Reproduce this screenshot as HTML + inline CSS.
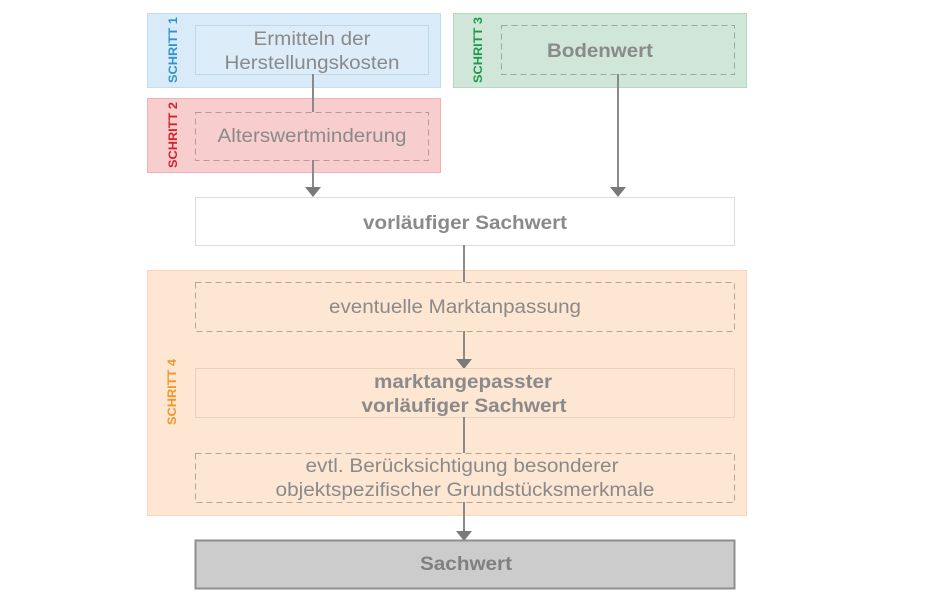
<!DOCTYPE html>
<html><head><meta charset="utf-8"><style>
html,body{margin:0;padding:0;background:#fff;width:940px;height:594px;overflow:hidden}
svg text{font-family:"Liberation Sans",Arial,sans-serif}
</style></head><body>
<svg width="940" height="594" viewBox="0 0 940 594" xmlns="http://www.w3.org/2000/svg">
<!-- Schritt 1 -->
<rect x="147.5" y="13.5" width="293" height="74" fill="#d9ebf9" stroke="#c2dcf2"/>
<rect x="195.5" y="25.5" width="233" height="49" fill="#dcecf9" stroke="#c3d6e4"/>
<text x="312" y="45" text-anchor="middle" font-size="19" fill="#8a8a8a" textLength="117" lengthAdjust="spacingAndGlyphs">Ermitteln der</text>
<text x="312" y="69" text-anchor="middle" font-size="19" fill="#8a8a8a" textLength="175" lengthAdjust="spacingAndGlyphs">Herstellungskosten</text>
<text transform="translate(177,50) rotate(-90)" text-anchor="middle" font-size="12" font-weight="bold" fill="#2c95d0" textLength="66" lengthAdjust="spacingAndGlyphs">SCHRITT 1</text>
<!-- Schritt 2 -->
<rect x="147.5" y="98.5" width="293" height="74" fill="#f8cdcd" stroke="#f0b3b3"/>
<rect x="195.5" y="112.5" width="233" height="48" fill="none" stroke="#b59a9a" stroke-dasharray="6,4"/>
<text x="312" y="142" text-anchor="middle" font-size="19" fill="#8a8a8a" textLength="189" lengthAdjust="spacingAndGlyphs">Alterswertminderung</text>
<text transform="translate(177,135) rotate(-90)" text-anchor="middle" font-size="12" font-weight="bold" fill="#d2232a" textLength="66" lengthAdjust="spacingAndGlyphs">SCHRITT 2</text>
<!-- Schritt 3 -->
<rect x="453.5" y="13.5" width="293" height="74" fill="#cfe6d9" stroke="#b6d8c4"/>
<rect x="501.5" y="25.5" width="233" height="49" fill="none" stroke="#9aa89f" stroke-dasharray="6,4"/>
<text x="600" y="57" text-anchor="middle" font-size="19" font-weight="bold" fill="#8a8a8a" textLength="106" lengthAdjust="spacingAndGlyphs">Bodenwert</text>
<text transform="translate(482,50) rotate(-90)" text-anchor="middle" font-size="12" font-weight="bold" fill="#1a9a4a" textLength="66" lengthAdjust="spacingAndGlyphs">SCHRITT 3</text>
<!-- connectors top -->
<line x1="313" y1="74" x2="313" y2="112" stroke="#8a8a8a" stroke-width="2"/>
<line x1="313" y1="160" x2="313" y2="188" stroke="#8a8a8a" stroke-width="2"/>
<polygon points="305,187 321,187 313,197" fill="#7a7a7a"/>
<line x1="618" y1="74" x2="618" y2="188" stroke="#8a8a8a" stroke-width="2"/>
<polygon points="610,187 626,187 618,197" fill="#7a7a7a"/>
<!-- vorläufiger -->
<rect x="195.5" y="197.5" width="539" height="48" fill="#fff" stroke="#dcdcdc"/>
<text x="465" y="229" text-anchor="middle" font-size="19" font-weight="bold" fill="#8a8a8a" textLength="204" lengthAdjust="spacingAndGlyphs">vorläufiger Sachwert</text>
<line x1="464" y1="245" x2="464" y2="282" stroke="#8a8a8a" stroke-width="2"/>
<!-- Schritt 4 -->
<rect x="147.5" y="270.5" width="599" height="245" fill="#fde6d2" stroke="#f8d6b8"/>
<line x1="464" y1="270" x2="464" y2="282" stroke="#8a8a8a" stroke-width="2"/>
<rect x="195.5" y="282.5" width="539" height="49" fill="none" stroke="#b5a596" stroke-dasharray="6,4"/>
<text x="455" y="313" text-anchor="middle" font-size="19" fill="#8a8a8a" textLength="252" lengthAdjust="spacingAndGlyphs">eventuelle Marktanpassung</text>
<line x1="464" y1="331" x2="464" y2="360" stroke="#8a8a8a" stroke-width="2"/>
<polygon points="456,359 472,359 464,369" fill="#7a7a7a"/>
<rect x="195.5" y="368.5" width="539" height="49" fill="none" stroke="#ecd2bc"/>
<text x="463" y="388" text-anchor="middle" font-size="19" font-weight="bold" fill="#8a8a8a" textLength="178" lengthAdjust="spacingAndGlyphs">marktangepasster</text>
<text x="464" y="412" text-anchor="middle" font-size="19" font-weight="bold" fill="#8a8a8a" textLength="205" lengthAdjust="spacingAndGlyphs">vorläufiger Sachwert</text>
<line x1="464" y1="417" x2="464" y2="453" stroke="#8a8a8a" stroke-width="2"/>
<rect x="195.5" y="453.5" width="539" height="49" fill="none" stroke="#b5a596" stroke-dasharray="6,4"/>
<text x="462" y="472" text-anchor="middle" font-size="19" fill="#8a8a8a" textLength="313" lengthAdjust="spacingAndGlyphs">evtl. Berücksichtigung besonderer</text>
<text x="465" y="496" text-anchor="middle" font-size="19" fill="#8a8a8a" textLength="379" lengthAdjust="spacingAndGlyphs">objektspezifischer Grundstücksmerkmale</text>
<text transform="translate(176,392) rotate(-90)" text-anchor="middle" font-size="12" font-weight="bold" fill="#f0962a" textLength="66" lengthAdjust="spacingAndGlyphs">SCHRITT 4</text>
<line x1="464" y1="502" x2="464" y2="532" stroke="#8a8a8a" stroke-width="2"/>
<polygon points="456,531 472,531 464,541" fill="#7a7a7a"/>
<!-- Sachwert -->
<rect x="195.5" y="540.5" width="539" height="48" fill="#cccccc" stroke="#8e8e8e" stroke-width="2"/>
<text x="466" y="570" text-anchor="middle" font-size="19" font-weight="bold" fill="#808080" textLength="92" lengthAdjust="spacingAndGlyphs">Sachwert</text>
</svg>
</body></html>
